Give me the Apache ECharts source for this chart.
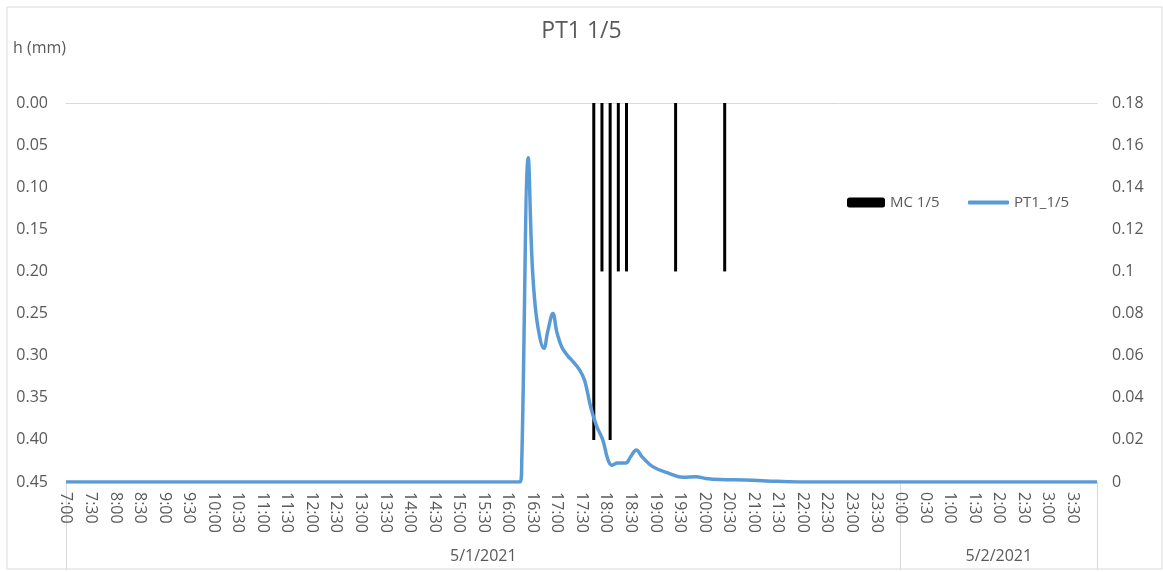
<!DOCTYPE html>
<html lang="en">
<head>
    <meta charset="UTF-8">
    <title>PT1 1/5</title>
    <script src="https://cdn.jsdelivr.net/npm/echarts@6/dist/echarts.min.js"></script>
    <style>
        html, body {
            margin: 0;
            height: 100%;
            background: #fff;
        }
    </style>
</head>
<body>
<div id="main" style="width: 1163px;height: 572px"></div>
</body>
</html>
<script>

    // MC 1/5 readings (left axis, mm, drawn downward from 0)
    var mcTimes = ['17:45', '17:55', '18:05', '18:15', '18:25', '19:25', '20:25'];
    var mcValues = [0.40, 0.20, 0.40, 0.20, 0.20, 0.20, 0.20];

    // PT1_1/5 readings (right axis)
    var ptTimes = ['7:00', '16:15', '16:17', '16:25', '16:29', '16:32', '16:37', '16:44', '16:49', '16:55',
        '17:00', '17:06', '17:13', '17:20', '17:28', '17:34', '17:41', '17:48', '17:56', '18:02',
        '18:07', '18:14', '18:24', '18:30', '18:37', '18:44', '18:57', '19:17', '19:34', '19:50',
        '20:02', '20:20', '20:50', '21:30', '22:00', '4:00'];
    var ptValues = [0, 0, 0.01, 0.154, 0.11, 0.09, 0.073, 0.0635, 0.072, 0.080,
        0.071, 0.064, 0.060, 0.057, 0.053, 0.048, 0.036, 0.027, 0.020, 0.011,
        0.008, 0.009, 0.009, 0.012, 0.0152, 0.012, 0.0073, 0.0041, 0.0022, 0.0025,
        0.0017, 0.0012, 0.001, 0.0003, 0, 0];

    // date groups under the time labels
    var dayLabels = ['5/1/2021', '5/2/2021'];
    var dayBounds = ['7:00', '0:00', '4:00'];

    var startHour = 7;
    var totalMin = 21 * 60;

    // clock string -> minutes since 7:00 on 5/1
    function toMin(t) {
        var p = t.split(':');
        var h = parseInt(p[0]);
        var m = parseInt(p[1]);
        if (h < startHour) h += 24;
        return (h - startHour) * 60 + m;
    }

    function minLabel(v) {
        var t = startHour * 60 + v;
        var h = Math.floor(t / 60) % 24;
        var m = t % 60;
        return h + ':' + (m < 10 ? '0' + m : m);
    }

    var mcData = mcTimes.map(function (t, i) {
        return [toMin(t), mcValues[i]];
    });
    var ptData = ptTimes.map(function (t, i) {
        return [toMin(t), ptValues[i]];
    });

    var bounds = dayBounds.map(function (t, i) {
        return i === 0 ? 0 : toMin(t);
    });
    var dayCenters = [];
    for (var i = 0; i < dayLabels.length; i++) {
        dayCenters.push((bounds[i] + bounds[i + 1]) / 2);
    }

    var font = 'Open Sans';
    var txt = '#595959';
    var gridCol = '#d9d9d9';
    var lineCol = '#5b9bd5';

    var myChart = echarts.init(document.getElementById('main'));
    var option = {
        backgroundColor: '#fff',
        animation: false,
        textStyle: {fontFamily: font},
        title: {
            text: 'PT1 1/5',
            left: 'center',
            top: 20,
            padding: 0,
            textStyle: {fontFamily: font, fontSize: 23, fontWeight: 'normal', color: txt}
        },
        legend: [
            {
                left: 842,
                top: 190,
                itemWidth: 38,
                itemHeight: 10,
                itemGap: 25,
                textStyle: {fontFamily: font, fontSize: 15, color: txt},
                data: ['MC 1/5']
            },
            {
                left: 963,
                top: 190,
                itemWidth: 41,
                itemHeight: 4,
                icon: 'roundRect',
                textStyle: {fontFamily: font, fontSize: 15, color: txt},
                data: ['PT1_1/5']
            }
        ],
        graphic: [
            {
                type: 'rect',
                shape: {x: 7, y: 7, width: 1155, height: 562},
                style: {fill: 'none', stroke: gridCol, lineWidth: 1},
                silent: true
            },
            {
                type: 'text',
                left: 13,
                top: 40,
                style: {text: 'h (mm)', fontFamily: font, fontSize: 16, fill: txt}
            }
        ],
        grid: {left: 66, right: 66, top: 103, bottom: 90},
        xAxis: [
            {
                type: 'value',
                position: 'bottom',
                min: 0,
                max: totalMin,
                interval: 30,
                axisLine: {show: false},
                axisTick: {show: false},
                splitLine: {show: false},
                axisLabel: {
                    rotate: -90,
                    margin: 10,
                    showMaxLabel: false,
                    fontFamily: font,
                    fontSize: 16,
                    color: txt,
                    formatter: minLabel
                }
            },
            {
                type: 'value',
                position: 'bottom',
                min: 0,
                max: totalMin,
                axisLine: {show: false},
                splitLine: {show: false},
                axisTick: {
                    show: true,
                    customValues: bounds,
                    length: 88,
                    lineStyle: {color: gridCol}
                },
                axisLabel: {
                    customValues: dayCenters,
                    margin: 66,
                    fontFamily: font,
                    fontSize: 16,
                    color: txt,
                    formatter: function (v) {
                        var k = dayCenters.indexOf(v);
                        return k >= 0 ? dayLabels[k] : '';
                    }
                }
            },
            {
                type: 'value',
                position: 'top',
                min: 0,
                max: totalMin,
                axisLine: {show: true, lineStyle: {color: gridCol, width: 1}},
                axisTick: {show: false},
                axisLabel: {show: false},
                splitLine: {show: false}
            }
        ],
        yAxis: [
            {
                type: 'value',
                inverse: true,
                min: 0,
                max: 0.45,
                interval: 0.05,
                axisLine: {show: false},
                axisTick: {show: false},
                splitLine: {show: false},
                axisLabel: {
                    margin: 18,
                    fontFamily: font,
                    fontSize: 16,
                    color: txt,
                    formatter: function (v) {
                        return v.toFixed(2);
                    }
                }
            },
            {
                type: 'value',
                position: 'right',
                min: 0,
                max: 0.18,
                interval: 0.02,
                axisLine: {show: false},
                axisTick: {show: false},
                splitLine: {show: false},
                axisLabel: {
                    margin: 15,
                    fontFamily: font,
                    fontSize: 16,
                    color: txt,
                    formatter: function (v) {
                        return String(parseFloat(v.toFixed(2)));
                    }
                }
            }
        ],
        series: [
            {
                name: 'MC 1/5',
                type: 'bar',
                xAxisIndex: 0,
                yAxisIndex: 0,
                barWidth: 3,
                itemStyle: {color: '#000'},
                data: mcData
            },
            {
                name: 'PT1_1/5',
                type: 'line',
                xAxisIndex: 0,
                yAxisIndex: 1,
                smooth: 0.4,
                symbol: 'none',
                lineStyle: {color: lineCol, width: 3.5},
                itemStyle: {color: lineCol},
                data: ptData
            }
        ]
    };
    myChart.setOption(option);

</script>
